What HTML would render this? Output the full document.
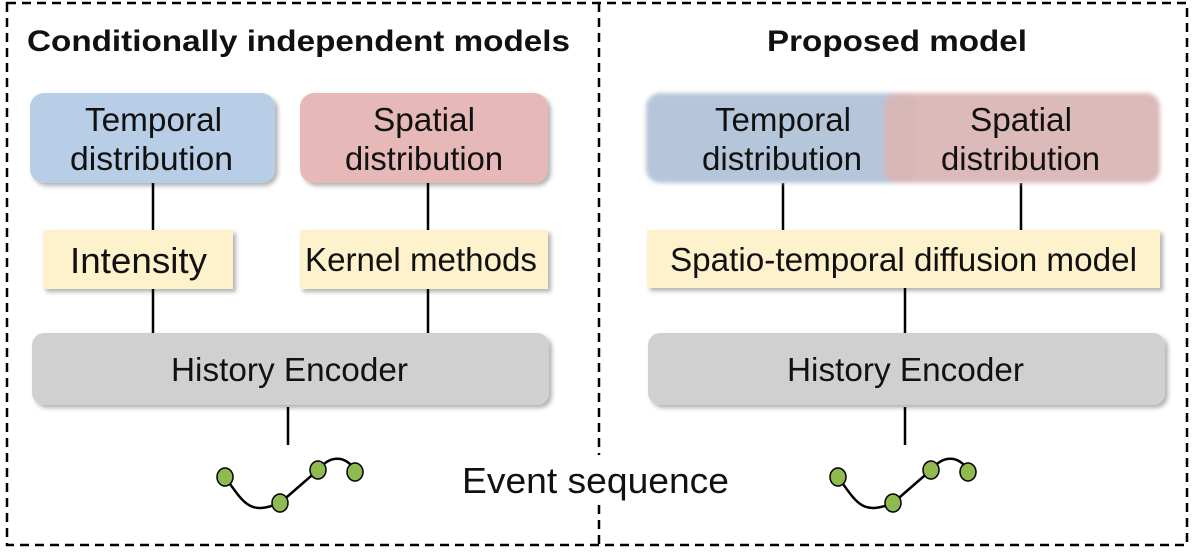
<!DOCTYPE html>
<html><head><meta charset="utf-8"><style>
body{margin:0;background:#fff}
text{font-family:"Liberation Sans",Arial,sans-serif;fill:#111}
</style></head><body>
<svg width="1192" height="549" viewBox="0 0 1192 549" xmlns="http://www.w3.org/2000/svg">
<defs>
<filter id="sh" x="-10%" y="-20%" width="130%" height="150%"><feDropShadow dx="3" dy="3" stdDeviation="2" flood-color="#000" flood-opacity="0.3"/></filter>
<filter id="bl" x="-10%" y="-20%" width="130%" height="150%"><feGaussianBlur stdDeviation="2"/></filter>
</defs>
<rect x="7" y="3" width="1180" height="542" fill="none" stroke="#000" stroke-width="2.5" stroke-dasharray="9,6"/>
<line x1="599" y1="3" x2="599" y2="455" stroke="#000" stroke-width="2.5" stroke-dasharray="9,6"/>
<line x1="599" y1="505" x2="599" y2="545" stroke="#000" stroke-width="2.5" stroke-dasharray="9,6"/>
<g font-weight="bold" font-size="30">
<text x="27" y="51" textLength="543" lengthAdjust="spacingAndGlyphs">Conditionally independent models</text>
<text x="767" y="51" textLength="260" lengthAdjust="spacingAndGlyphs">Proposed model</text>
</g>
<g stroke="#000" stroke-width="2.5">
<line x1="153" y1="183" x2="153" y2="333"/><line x1="428" y1="183" x2="428" y2="333"/>
<line x1="288" y1="407" x2="288" y2="445"/>
<line x1="783" y1="183" x2="783" y2="232"/><line x1="1021" y1="183" x2="1021" y2="232"/>
<line x1="905" y1="288" x2="905" y2="333"/><line x1="905" y1="407" x2="905" y2="445"/>
</g>
<g filter="url(#sh)">
<rect x="30" y="93" width="245" height="90" rx="14" fill="#b8cde6"/>
<rect x="300" y="93" width="248" height="90" rx="14" fill="#e6b8b7"/>
<rect x="43" y="230" width="190" height="59" fill="#fdf2cc"/>
<rect x="300" y="230" width="248" height="59" fill="#fdf2cc"/>
<rect x="32" y="333" width="517" height="72" rx="12" fill="#d0d0d0"/>
<rect x="647" y="230" width="513" height="58" fill="#fdf2cc"/>
<rect x="648" y="333" width="517" height="72" rx="12" fill="#d0d0d0"/>
</g>
<g filter="url(#bl)">
<rect x="646" y="93" width="270" height="90" rx="14" fill="#b5c6da"/>
<rect x="884" y="93" width="276" height="90" rx="14" fill="#d8b5b4" opacity="0.93"/>
</g>
<g font-size="33">
<text x="85" y="131" textLength="137" lengthAdjust="spacingAndGlyphs">Temporal</text>
<text x="70" y="170" textLength="163" lengthAdjust="spacingAndGlyphs">distribution</text>
<text x="373" y="131" textLength="102" lengthAdjust="spacingAndGlyphs">Spatial</text>
<text x="345" y="170" textLength="158" lengthAdjust="spacingAndGlyphs">distribution</text>
<text x="70" y="273" font-size="36" textLength="137" lengthAdjust="spacingAndGlyphs">Intensity</text>
<text x="305" y="271" textLength="232" lengthAdjust="spacingAndGlyphs">Kernel methods</text>
<text x="171" y="381" textLength="237" lengthAdjust="spacingAndGlyphs">History Encoder</text>
<text x="715" y="131" textLength="136" lengthAdjust="spacingAndGlyphs">Temporal</text>
<text x="702" y="170" textLength="160" lengthAdjust="spacingAndGlyphs">distribution</text>
<text x="970" y="131" textLength="102" lengthAdjust="spacingAndGlyphs">Spatial</text>
<text x="941" y="170" textLength="159" lengthAdjust="spacingAndGlyphs">distribution</text>
<text x="670" y="271" textLength="467" lengthAdjust="spacingAndGlyphs">Spatio-temporal diffusion model</text>
<text x="787" y="381" textLength="237" lengthAdjust="spacingAndGlyphs">History Encoder</text>
<text x="462" y="493" font-size="36" textLength="267" lengthAdjust="spacingAndGlyphs">Event sequence</text>
</g>
<path d="M225 477 C245 505 250 515 280 503 L318 470 C330 455 345 455 355 470" stroke="#000" stroke-width="2.5" fill="none"/>
<g fill="#8fba4f" stroke="#000" stroke-width="1.5">
<ellipse cx="225" cy="477" rx="8" ry="9"/><ellipse cx="280" cy="503" rx="8" ry="9"/>
<ellipse cx="318" cy="470" rx="8" ry="9"/><ellipse cx="355" cy="472" rx="8" ry="9"/>
</g>
<g transform="translate(613,0)">
<path d="M225 477 C245 505 250 515 280 503 L318 470 C330 455 345 455 355 470" stroke="#000" stroke-width="2.5" fill="none"/>
<g fill="#8fba4f" stroke="#000" stroke-width="1.5">
<ellipse cx="225" cy="477" rx="8" ry="9"/><ellipse cx="280" cy="503" rx="8" ry="9"/>
<ellipse cx="318" cy="470" rx="8" ry="9"/><ellipse cx="355" cy="472" rx="8" ry="9"/>
</g></g>
</svg>
</body></html>
